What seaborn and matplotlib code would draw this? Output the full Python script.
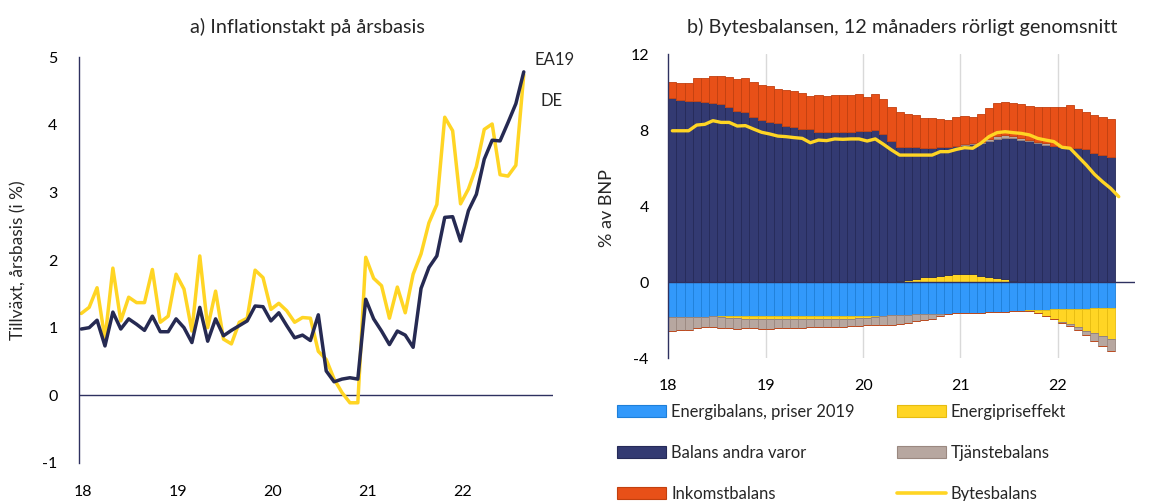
import numpy as np
import pandas as pd
import matplotlib
matplotlib.use("Agg")
import matplotlib.pyplot as plt
from matplotlib.patches import Patch
from matplotlib.lines import Line2D
import seaborn as sns

# ---------------- data: panel a (monthly, Jan 2018 - Sep 2022) ----------------
ea19 = [0.98, 1.00, 1.11, 0.73, 1.23, 0.98, 1.13, 1.05, 0.96, 1.17, 0.94, 0.94,
        1.13, 1.00, 0.78, 1.30, 0.80, 1.13, 0.88, 0.96, 1.03, 1.10, 1.32, 1.31,
        1.10, 1.22, 1.03, 0.85, 0.89, 0.81, 1.19, 0.36, 0.20, 0.24, 0.26, 0.24,
        1.42, 1.13, 0.95, 0.75, 0.95, 0.89, 0.71, 1.58, 1.89, 2.06, 2.63, 2.64,
        2.28, 2.73, 2.97, 3.49, 3.77, 3.76, 4.03, 4.31, 4.78]
de = [1.21, 1.30, 1.59, 0.83, 1.88, 1.10, 1.45, 1.37, 1.37, 1.86, 1.08, 1.17,
      1.79, 1.57, 0.95, 2.06, 1.00, 1.54, 0.83, 0.76, 1.08, 1.14, 1.85, 1.74,
      1.27, 1.36, 1.25, 1.08, 1.15, 1.14, 0.65, 0.53, 0.24, 0.04, -0.11, -0.11,
      2.04, 1.73, 1.62, 1.14, 1.60, 1.22, 1.79, 2.09, 2.55, 2.82, 4.11, 3.91,
      2.83, 3.05, 3.38, 3.93, 4.01, 3.26, 3.24, 3.40, 4.74]

# ---------------- data: panel b (12-month moving average, % of GDP) ----------
energi_2019 = [-1.82, -1.82, -1.83, -1.83, -1.82, -1.81, -1.80, -1.80, -1.80, -1.80,
               -1.80, -1.80, -1.80, -1.80, -1.80, -1.80, -1.80, -1.80, -1.80, -1.80,
               -1.79, -1.79, -1.79, -1.79, -1.79, -1.79, -1.79, -1.75, -1.74, -1.74,
               -1.71, -1.70, -1.69, -1.68, -1.66, -1.65, -1.64, -1.62, -1.61, -1.60,
               -1.57, -1.56, -1.53, -1.51, -1.49, -1.47, -1.46, -1.44, -1.43, -1.43,
               -1.42, -1.40, -1.39, -1.37, -1.35]
energipris = [0.02, 0.02, 0.02, 0.0, 0.0, 0.0, -0.05, -0.10, -0.12, -0.14,
              -0.16, -0.16, -0.16, -0.16, -0.16, -0.16, -0.16, -0.16, -0.16, -0.16,
              -0.16, -0.16, -0.16, -0.12, -0.08, -0.05, -0.02, 0.0, 0.05, 0.12,
              0.18, 0.25, 0.28, 0.33, 0.37, 0.40, 0.42, 0.40, 0.33, 0.25,
              0.19, 0.14, 0.07, 0.0, -0.05, -0.18, -0.32, -0.53, -0.65, -0.79,
              -0.93, -1.16, -1.32, -1.47, -1.67]
andra_varor = [9.65, 9.56, 9.51, 9.53, 9.50, 9.40, 9.35, 9.23, 9.02, 8.96,
               8.70, 8.53, 8.40, 8.35, 8.23, 8.14, 8.05, 8.04, 7.91, 7.88,
               7.91, 7.91, 7.91, 7.95, 7.95, 8.00, 7.80, 7.44, 7.07, 6.97,
               6.91, 6.79, 6.76, 6.76, 6.75, 6.76, 6.79, 6.85, 6.97, 7.15,
               7.36, 7.46, 7.49, 7.48, 7.40, 7.30, 7.22, 7.14, 7.12, 7.04,
               7.04, 6.98, 6.77, 6.68, 6.60]
tjanster = [-0.74, -0.71, -0.67, -0.61, -0.57, -0.54, -0.59, -0.54, -0.57, -0.50,
            -0.48, -0.53, -0.53, -0.48, -0.44, -0.44, -0.44, -0.43, -0.43, -0.43,
            -0.40, -0.40, -0.37, -0.41, -0.41, -0.42, -0.47, -0.49, -0.46, -0.41,
            -0.35, -0.28, -0.24, -0.10, -0.03, 0.02, 0.03, 0.05, 0.09, 0.14,
            0.13, 0.14, 0.14, 0.12, 0.10, 0.08, 0.07, 0.04, -0.09, -0.07,
            -0.18, -0.23, -0.39, -0.53, -0.61]
inkomst = [0.87, 0.92, 0.97, 1.19, 1.22, 1.46, 1.47, 1.57, 1.65, 1.76,
           1.83, 1.84, 1.90, 1.83, 1.89, 1.89, 1.92, 1.73, 1.95, 1.92,
           1.95, 1.93, 1.93, 1.93, 1.80, 1.88, 1.81, 1.75, 1.81, 1.73,
           1.68, 1.61, 1.57, 1.48, 1.42, 1.49, 1.50, 1.37, 1.45, 1.64,
           1.72, 1.72, 1.70, 1.75, 1.75, 1.81, 1.94, 2.05, 2.07, 2.28,
           2.06, 1.98, 2.02, 2.02, 1.96]
bytesbalans = [7.96, 7.96, 7.96, 8.26, 8.30, 8.49, 8.40, 8.40, 8.21, 8.23,
               8.05, 7.88, 7.79, 7.68, 7.65, 7.60, 7.56, 7.33, 7.47, 7.44,
               7.53, 7.51, 7.53, 7.53, 7.42, 7.53, 7.25, 6.95, 6.68, 6.68,
               6.68, 6.68, 6.68, 6.86, 6.86, 6.98, 7.07, 7.04, 7.30, 7.65,
               7.86, 7.91, 7.86, 7.82, 7.74, 7.56, 7.47, 7.39, 7.09, 7.04,
               6.60, 6.16, 5.67, 5.28, 4.93, 4.49]

year_labels = ["18", "19", "20", "21", "22"]
series_b = ["Energibalans, priser 2019", "Energipriseffekt", "Balans andra varor",
            "Tjänstebalans", "Inkomstbalans"]

# ---------------- style ----------------
sns.set_theme(style="white")
plt.rcParams["font.family"] = ["Lato", "DejaVu Sans"]
plt.rcParams["font.size"] = 11
plt.rcParams["axes.unicode_minus"] = False

NAVY_LINE = "#262A52"
YELLOW = "#FFD524"
AXIS_COL = "#2E3160"

col_fill = {"Energibalans, priser 2019": "#3299FB",
            "Energipriseffekt": "#FFD524",
            "Balans andra varor": "#333A72",
            "Tjänstebalans": "#B7A7A0",
            "Inkomstbalans": "#E85018"}
col_edge = {"Energibalans, priser 2019": "#1E7FD8",
            "Energipriseffekt": "#E6BC10",
            "Balans andra varor": "#252A58",
            "Tjänstebalans": "#9A8880",
            "Inkomstbalans": "#C2400F"}

W, H = 1151, 501
fig = plt.figure(figsize=(W / 100, H / 100), dpi=100)

def fx(px):
    return px / W

def fy(py):
    return 1 - py / H

TICK_FS = 11.5

# ---------------- panel a ----------------
axa = fig.add_axes([fx(78.5), fy(463), fx(553) - fx(78.5), fy(57) - fy(463)])
dfa = pd.DataFrame({"m": np.arange(len(ea19)), "EA19": ea19, "DE": de})
sns.lineplot(data=dfa, x="m", y="DE", ax=axa, color=YELLOW, lw=2.5, legend=False)
sns.lineplot(data=dfa, x="m", y="EA19", ax=axa, color=NAVY_LINE, lw=2.5, legend=False)
axa.set_xlim(-0.35, 59.7)
axa.set_ylim(-1, 5)
axa.set_yticks(range(-1, 6))
axa.set_xticks([0.2 + 12 * k for k in range(len(year_labels))])
axa.set_xticklabels(year_labels)
axa.axhline(0, color=AXIS_COL, lw=1.0, zorder=1)
for s in ["top", "right", "bottom"]:
    axa.spines[s].set_visible(False)
axa.spines["left"].set_color(AXIS_COL)
axa.spines["left"].set_linewidth(1.0)
axa.tick_params(axis="both", length=0, labelsize=TICK_FS, colors="black")
axa.tick_params(axis="x", pad=16)
axa.tick_params(axis="y", pad=15)
axa.set_xlabel("")
axa.set_ylabel("")
fig.text(fx(18), fy(260), "Tillväxt, årsbasis (i %)", rotation=90,
         ha="center", va="center", fontsize=12.5)
fig.text(fx(307.5), fy(27), "a) Inflationstakt på årsbasis", ha="center",
         va="center", fontsize=14.3)
fig.text(fx(535), fy(60), "EA19", ha="left", va="center", fontsize=12)
fig.text(fx(541), fy(101), "DE", ha="left", va="center", fontsize=12)

# ---------------- panel b ----------------
axb = fig.add_axes([fx(668.3), fy(358), fx(1135) - fx(668.3), fy(54) - fy(358)])
comp = {"Energibalans, priser 2019": np.array(energi_2019),
        "Energipriseffekt": np.array(energipris),
        "Balans andra varor": np.array(andra_varor),
        "Tjänstebalans": np.array(tjanster),
        "Inkomstbalans": np.array(inkomst)}
xb = np.arange(len(energi_2019))
pos_base = np.zeros(len(xb))
neg_base = np.zeros(len(xb))
for name in series_b:
    v = comp[name]
    pv = np.where(v > 0, v, 0.0)
    nv = np.where(v < 0, v, 0.0)
    axb.bar(xb, pv, bottom=pos_base, width=1.0, color=col_fill[name],
            edgecolor=col_edge[name], linewidth=0.6, zorder=2)
    axb.bar(xb, nv, bottom=neg_base, width=1.0, color=col_fill[name],
            edgecolor=col_edge[name], linewidth=0.6, zorder=2)
    pos_base = pos_base + pv
    neg_base = neg_base + nv

dfb = pd.DataFrame({"m": np.arange(len(bytesbalans)), "b": bytesbalans})
sns.lineplot(data=dfb, x="m", y="b", ax=axb, color=YELLOW, lw=2.4,
             legend=False, zorder=4)
axb.set_xlim(-0.5, 57.0)
axb.set_ylim(-4, 12)
axb.set_yticks([-4, 0, 4, 8, 12])
yt = [-0.5 + 12 * k for k in range(len(year_labels))]
axb.set_xticks(yt)
axb.set_xticklabels(year_labels)
for g in yt[1:]:
    axb.axvline(g, color="#D9D9D9", lw=1.0, zorder=0)
axb.axhline(0, color=AXIS_COL, lw=1.0, zorder=3)
for s in ["top", "right", "bottom"]:
    axb.spines[s].set_visible(False)
axb.spines["left"].set_color(AXIS_COL)
axb.spines["left"].set_linewidth(1.0)
axb.tick_params(axis="both", length=0, labelsize=TICK_FS, colors="black")
axb.tick_params(axis="x", pad=15)
axb.tick_params(axis="y", pad=14)
axb.set_xlabel("")
axb.set_ylabel("")
fig.text(fx(607), fy(208), "% av BNP", rotation=90, ha="center", va="center",
         fontsize=13)
fig.text(fx(902), fy(27), "b) Bytesbalansen, 12 månaders rörligt genomsnitt",
         ha="center", va="center", fontsize=14.3)

# legend
handles = [Patch(facecolor=col_fill[n], edgecolor=col_edge[n], lw=0.8, label=n)
           for n in series_b]
handles.append(Line2D([], [], color=YELLOW, lw=2.6, label="Bytesbalans"))
order = [0, 2, 4, 1, 3, 5]
leg = fig.legend([handles[i] for i in order],
                 [handles[i].get_label() for i in order],
                 ncol=2, loc="upper left", bbox_to_anchor=(fx(617), fy(404)),
                 frameon=False, fontsize=11.9, handlelength=2.97, handleheight=0.7,
                 handletextpad=0.3, labelspacing=1.5, columnspacing=2.55,
                 borderpad=0, borderaxespad=0)

fig.savefig("out.png", dpi=100)
